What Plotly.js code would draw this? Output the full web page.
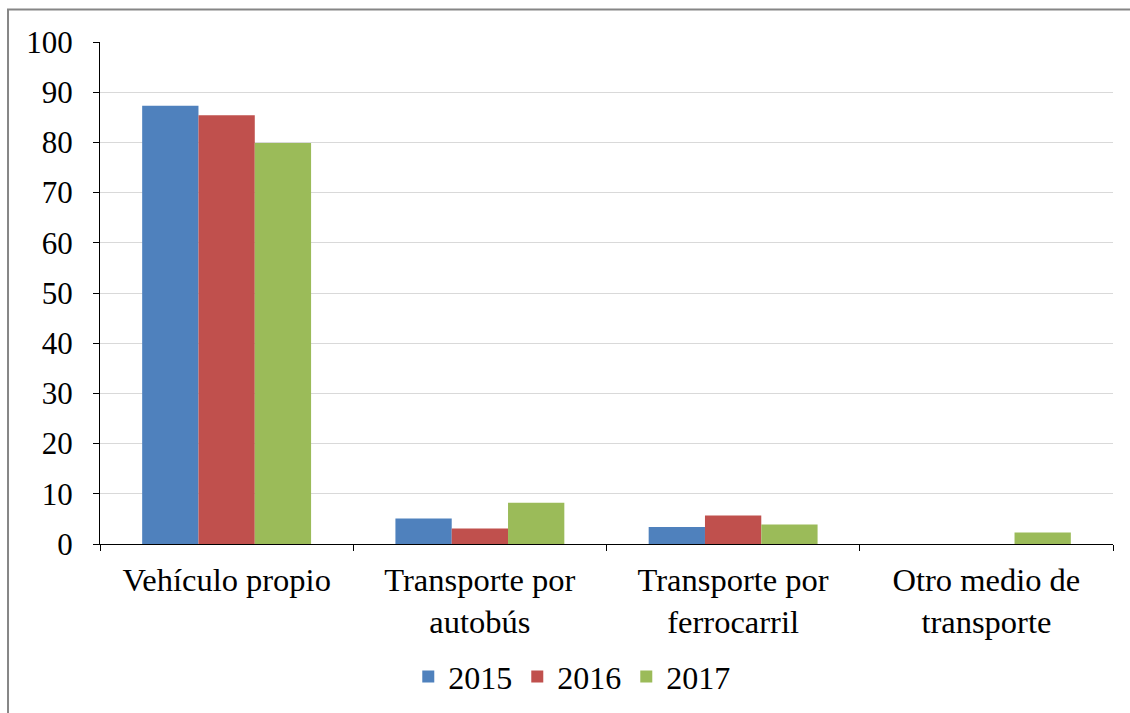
<!DOCTYPE html>
<html>
<head>
<meta charset="utf-8">
<script src="https://cdn.plot.ly/plotly-3.0.1.min.js"></script>
<style>
html,body{margin:0;padding:0;background:#fff;}
#chart{width:1130px;height:713px;}
</style>
</head>
<body>
<div id="chart"></div>
<script>
const categories = ["Vehículo propio", "Transporte por<br>autobús", "Transporte por<br>ferrocarril", "Otro medio de<br>transporte"];
const years = ["2015", "2016", "2017"];
const values2015 = [87.3, 5.1, 3.4, 0];
const values2016 = [85.4, 3.1, 5.7, 0];
const values2017 = [79.9, 8.2, 3.9, 2.3];
const colors = ["#4F81BD", "#C0504D", "#9BBB59"];

const series = [values2015, values2016, values2017];
const traces = series.map((vals, i) => ({
  type: "bar",
  name: years[i],
  x: categories,
  y: vals,
  marker: {color: colors[i], line: {width: 0}},
  hoverinfo: "x+y"
}));

const fontFam = "Liberation Serif";

const layout = {
  width: 1130,
  height: 713,
  margin: {l: 100, r: 17, t: 42, b: 169, autoexpand: false},
  paper_bgcolor: "#ffffff",
  plot_bgcolor: "#ffffff",
  barmode: "group",
  bargap: 0.333,
  bargroupgap: 0,
  font: {family: fontFam, size: 31, color: "#000"},
  showlegend: true,
  legend: {
    orientation: "h",
    xref: "container", yref: "container",
    x: 0.506, xanchor: "center",
    y: 0.051, yanchor: "middle",
    font: {family: fontFam, size: 32, color: "#000"},
    itemwidth: 30,
    traceorder: "normal"
  },
  xaxis: {
    type: "category",
    automargin: false,
    showline: true,
    linecolor: "#000",
    linewidth: 1,
    ticks: "outside",
    tickson: "boundaries",
    ticklen: 6,
    tickcolor: "#000",
    showgrid: false,
    ticklabelstandoff: 7,
    tickfont: {family: fontFam, size: 32.5, color: "#000"}
  },
  yaxis: {
    range: [0, 100],
    dtick: 10,
    automargin: false,
    showline: true,
    linecolor: "#000",
    linewidth: 1,
    ticks: "outside",
    ticklen: 6,
    tickcolor: "#000",
    showgrid: true,
    gridcolor: "#D9D9D9",
    gridwidth: 1,
    zeroline: false,
    ticklabelstandoff: 14,
    tickfont: {family: fontFam, size: 31, color: "#000"}
  },
  shapes: [{
    type: "rect",
    xref: "paper", yref: "paper",
    x0: -0.0908, x1: 1.05,
    y0: -0.4, y1: 1.0648,
    line: {color: "#868686", width: 2},
    fillcolor: "rgba(0,0,0,0)",
    layer: "below"
  }]
};

Plotly.newPlot("chart", traces, layout, {displayModeBar: false, staticPlot: true});
</script>
</body>
</html>
